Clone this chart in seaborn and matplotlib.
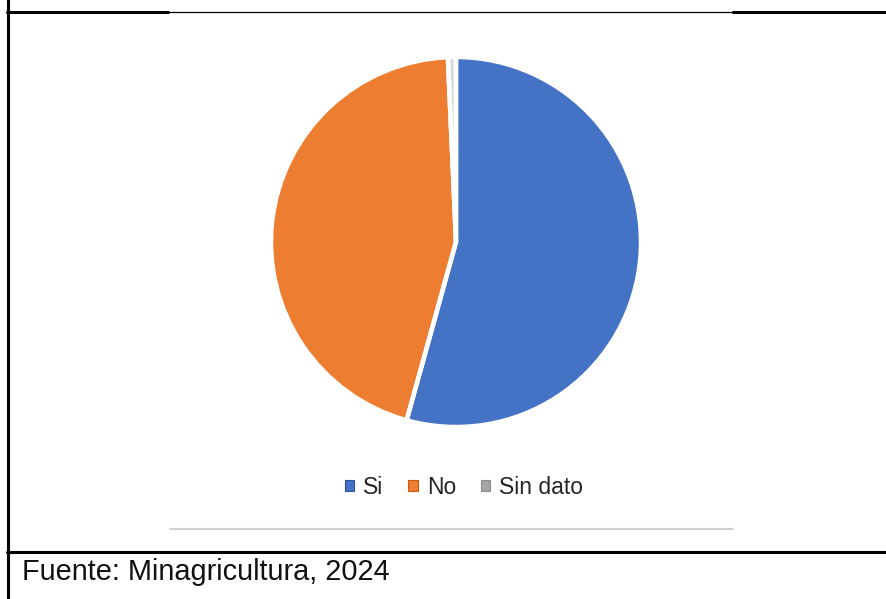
import matplotlib
matplotlib.use("Agg")
import matplotlib.pyplot as plt
import seaborn as sns
from matplotlib.lines import Line2D
from matplotlib.patches import Patch

sns.set_theme(style="white")
plt.rcParams['font.family'] = ['Liberation Sans', 'DejaVu Sans']

categories = ["Si", "No", "Sin dato"]
values = [54.3, 45.0, 0.7]
colors = ["#4472C4", "#ED7D31", "#A5A5A5"]
edge_colors = ["#2F5597", "#C55A11", "#BFBFBF"]
source_text = "Fuente: Minagricultura, 2024"

W, H = 886, 599
fig = plt.figure(figsize=(W / 100, H / 100), dpi=100)
fig.patch.set_facecolor("white")

def fx(x):
    return x / W

def fy(y):
    return 1 - y / H

# pie axes
cx, cy, r = 456, 242, 185
ax = fig.add_axes([fx(cx - r), fy(cy + r), 2 * r / W, 2 * r / H])
wedges, _ = ax.pie(values, colors=colors, startangle=90, counterclock=False,
                   radius=1.0)
for w, ec in zip(wedges, edge_colors):
    w.set_edgecolor(ec)
    w.set_linewidth(1.4)
wedges[2].set_facecolor("#D9D9D9")
# white separators drawn on top
ax.pie(values, colors=["none"] * 3, startangle=90, counterclock=False,
       radius=1.0, wedgeprops=dict(edgecolor="white", linewidth=3.2, fill=False))
ax.set_xlim(-1.0, 1.0)
ax.set_ylim(-1.0, 1.0)
ax.set_aspect("equal")
ax.axis("off")

# legend
handles = [Patch(facecolor=c, edgecolor=ec, linewidth=0.8) for c, ec in
           zip(colors, ["#2F5597", "#C55A11", "#8C8C8C"])]
fig.legend(handles, categories, loc="center", bbox_to_anchor=(fx(464), fy(487)),
           ncol=3, frameon=False, fontsize=16.5, handlelength=0.4, handleheight=0.4,
           handletextpad=0.4, columnspacing=1.1, labelcolor="#262626")

# frame lines
black = "black"
fig.add_artist(Line2D([fx(7.5), fx(7.5)], [0, 1], color=black, linewidth=2.2))
fig.add_artist(Line2D([fx(7), fx(168)], [fy(12), fy(12)], color=black, linewidth=2.2))
fig.add_artist(Line2D([fx(168), fx(733)], [fy(12), fy(12)], color=black, linewidth=0.9))
fig.add_artist(Line2D([fx(733), 1], [fy(12), fy(12)], color=black, linewidth=2.2))
fig.add_artist(Line2D([fx(7), 1], [fy(551.5), fy(551.5)], color=black, linewidth=2.2))
fig.add_artist(Line2D([fx(170), fx(733)], [fy(529), fy(529)], color="#D0D0D0", linewidth=1.5))

fig.text(fx(22), fy(580), source_text, fontsize=20.8, color="#111111",
         ha="left", va="baseline")

fig.savefig("out.png", dpi=100, facecolor="white")
